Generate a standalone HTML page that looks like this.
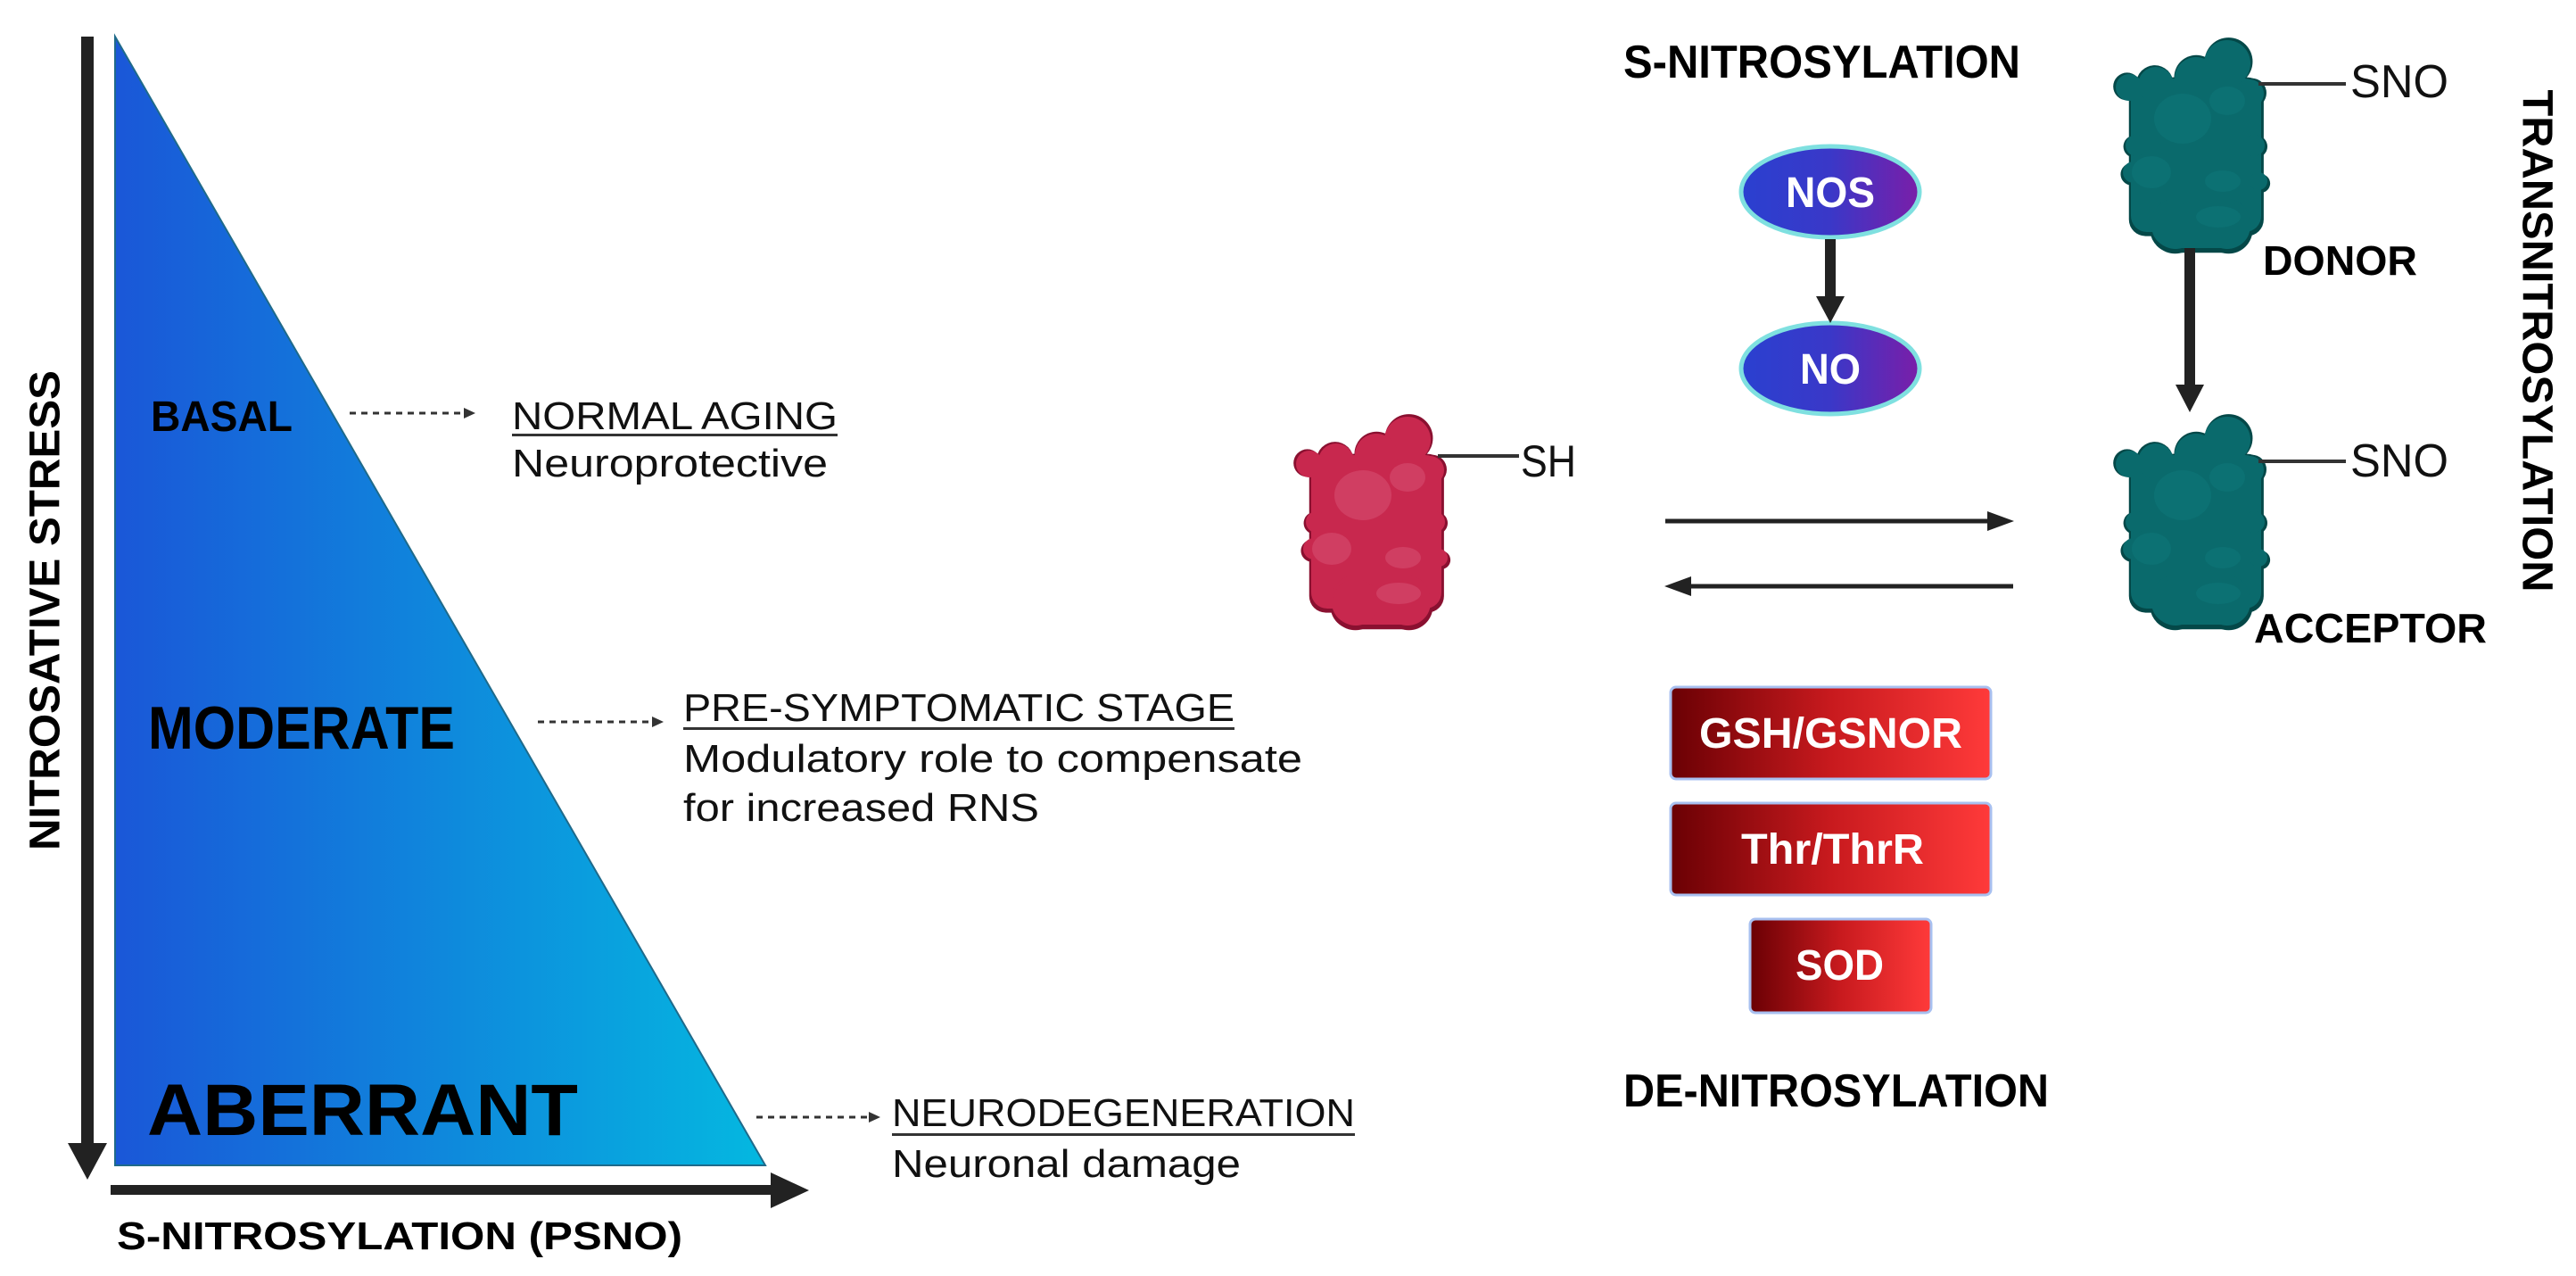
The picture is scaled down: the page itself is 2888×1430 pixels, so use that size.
<!DOCTYPE html>
<html><head><meta charset="utf-8"><style>html,body{margin:0;padding:0;background:#fff}svg{display:block}</style></head>
<body>
<svg width="2888" height="1430" viewBox="0 0 2888 1430" xmlns="http://www.w3.org/2000/svg" font-family="Liberation Sans, sans-serif">
<defs>
<linearGradient id="tri" x1="0" x2="1" y1="0" y2="0"><stop offset="0" stop-color="#1a57d8"/><stop offset="1" stop-color="#04b8e0"/></linearGradient>
<linearGradient id="ell" x1="0" x2="1" y1="0" y2="0"><stop offset="0" stop-color="#2a40d0"/><stop offset="0.5" stop-color="#3a38c8"/><stop offset="1" stop-color="#7a1ea8"/></linearGradient>
<linearGradient id="red" x1="0" x2="1" y1="0" y2="0"><stop offset="0" stop-color="#6a0004"/><stop offset="0.5" stop-color="#c81a1e"/><stop offset="1" stop-color="#ff3a3a"/></linearGradient>
<g id="blob">
<rect x="22" y="45" width="146" height="172" rx="18"/>
<rect x="45" y="180" width="110" height="55" rx="25"/>
<circle cx="130" cy="28" r="26"/><circle cx="95" cy="45" r="24"/><circle cx="50" cy="52" r="20"/><circle cx="20" cy="55" r="15"/>
<circle cx="155" cy="62" r="16"/><circle cx="160" cy="120" r="12"/><circle cx="165" cy="160" r="10"/>
<circle cx="28" cy="120" r="12"/><circle cx="25" cy="150" r="12"/>
<circle cx="72" cy="210" r="26"/><circle cx="130" cy="210" r="26"/>
</g>
</defs>

<polygon points="129,41 129,1306 858,1306" fill="url(#tri)" stroke="#1f6a8a" stroke-width="2"/>
<rect x="91" y="41" width="14" height="1245" fill="#222"/>
<polygon points="76,1281 120,1281 98,1322" fill="#222"/>
<rect x="124" y="1328" width="745" height="11" fill="#222"/>
<polygon points="864,1314 864,1354 907,1334" fill="#222"/>

<text x="51" y="684" transform="rotate(-90 51 684)" text-anchor="middle" dominant-baseline="central" font-size="48" font-weight="bold" textLength="538" lengthAdjust="spacingAndGlyphs">NITROSATIVE  STRESS</text>
<text x="131" y="1400" font-size="44" font-weight="bold" textLength="634" lengthAdjust="spacingAndGlyphs">S-NITROSYLATION (PSNO)</text>

<text x="169" y="483" font-size="48" font-weight="bold" textLength="159" lengthAdjust="spacingAndGlyphs">BASAL</text>
<text x="166" y="839" font-size="68" font-weight="bold" textLength="344" lengthAdjust="spacingAndGlyphs">MODERATE</text>
<text x="165" y="1272" font-size="82" font-weight="bold" textLength="483" lengthAdjust="spacingAndGlyphs">ABERRANT</text>

<g stroke="#333" stroke-width="3" stroke-dasharray="7,6">
<line x1="392" y1="463" x2="522" y2="463"/>
<line x1="603" y1="809" x2="733" y2="809"/>
<line x1="848" y1="1252" x2="976" y2="1252"/>
</g>
<g fill="#333">
<polygon points="520,457 533,463 520,469"/>
<polygon points="731,803 744,809 731,815"/>
<polygon points="974,1246 987,1252 974,1258"/>
</g>

<g font-size="44" fill="#111">
<text x="574" y="481" textLength="365" lengthAdjust="spacingAndGlyphs">NORMAL AGING</text>
<rect x="574" y="486" width="365" height="3" fill="#333"/>
<text x="574" y="534" textLength="354" lengthAdjust="spacingAndGlyphs">Neuroprotective</text>
<text x="766" y="808" textLength="618" lengthAdjust="spacingAndGlyphs">PRE-SYMPTOMATIC STAGE</text>
<rect x="766" y="815" width="618" height="3" fill="#333"/>
<text x="766" y="865" textLength="694" lengthAdjust="spacingAndGlyphs">Modulatory role to compensate</text>
<text x="766" y="920" textLength="399" lengthAdjust="spacingAndGlyphs">for increased RNS</text>
<text x="1000" y="1262" textLength="519" lengthAdjust="spacingAndGlyphs">NEURODEGENERATION</text>
<rect x="1000" y="1270" width="519" height="3" fill="#333"/>
<text x="1000" y="1319" textLength="391" lengthAdjust="spacingAndGlyphs">Neuronal damage</text>
</g>

<text x="1820" y="87" font-size="52" font-weight="bold" textLength="445" lengthAdjust="spacingAndGlyphs">S-NITROSYLATION</text>
<text x="1820" y="1240" font-size="52" font-weight="bold" textLength="477" lengthAdjust="spacingAndGlyphs">DE-NITROSYLATION</text>

<ellipse cx="2052" cy="215" rx="100" ry="51" fill="url(#ell)" stroke="#7fe0e0" stroke-width="5"/>
<ellipse cx="2052" cy="413" rx="100" ry="51" fill="url(#ell)" stroke="#7fe0e0" stroke-width="5"/>
<text x="2052" y="232" text-anchor="middle" font-size="48" font-weight="bold" fill="#fff" textLength="100" lengthAdjust="spacingAndGlyphs">NOS</text>
<text x="2052" y="430" text-anchor="middle" font-size="48" font-weight="bold" fill="#fff" textLength="68" lengthAdjust="spacingAndGlyphs">NO</text>
<rect x="2046" y="268" width="12" height="66" fill="#222"/>
<polygon points="2036,332 2068,332 2052,362" fill="#222"/>

<g transform="translate(1448,465)">
<use href="#blob" fill="#8a1030" transform="translate(-3,-3) scale(1.035)"/>
<use href="#blob" fill="#c8284e"/>
<g fill="#d03e62"><ellipse cx="80" cy="90" rx="32" ry="28"/><ellipse cx="130" cy="70" rx="20" ry="16"/><ellipse cx="45" cy="150" rx="22" ry="18"/><ellipse cx="125" cy="160" rx="20" ry="12"/><ellipse cx="120" cy="200" rx="25" ry="12"/></g>
</g>
<line x1="1612" y1="511" x2="1703" y2="511" stroke="#333" stroke-width="4"/>
<text x="1705" y="534" font-size="50" fill="#111" textLength="62" lengthAdjust="spacingAndGlyphs">SH</text>

<g transform="translate(2367,43)">
<use href="#blob" fill="#044848" transform="translate(-3,-3) scale(1.035)"/>
<use href="#blob" fill="#0a6a6c"/>
<g fill="#0c7173"><ellipse cx="80" cy="90" rx="32" ry="28"/><ellipse cx="130" cy="70" rx="20" ry="16"/><ellipse cx="45" cy="150" rx="22" ry="18"/><ellipse cx="125" cy="160" rx="20" ry="12"/><ellipse cx="120" cy="200" rx="25" ry="12"/></g>
</g>
<line x1="2532" y1="94" x2="2630" y2="94" stroke="#333" stroke-width="4"/>
<text x="2635" y="109" font-size="52" fill="#111" textLength="110" lengthAdjust="spacingAndGlyphs">SNO</text>
<text x="2537" y="308" font-size="46" font-weight="bold" textLength="173" lengthAdjust="spacingAndGlyphs">DONOR</text>

<rect x="2449" y="278" width="12" height="155" fill="#222"/>
<polygon points="2439,431 2471,431 2455,462" fill="#222"/>

<g transform="translate(2367,465)">
<use href="#blob" fill="#044848" transform="translate(-3,-3) scale(1.035)"/>
<use href="#blob" fill="#0a6a6c"/>
<g fill="#0c7173"><ellipse cx="80" cy="90" rx="32" ry="28"/><ellipse cx="130" cy="70" rx="20" ry="16"/><ellipse cx="45" cy="150" rx="22" ry="18"/><ellipse cx="125" cy="160" rx="20" ry="12"/><ellipse cx="120" cy="200" rx="25" ry="12"/></g>
</g>
<line x1="2532" y1="517" x2="2630" y2="517" stroke="#333" stroke-width="4"/>
<text x="2635" y="534" font-size="52" fill="#111" textLength="110" lengthAdjust="spacingAndGlyphs">SNO</text>
<text x="2527" y="720" font-size="46" font-weight="bold" textLength="261" lengthAdjust="spacingAndGlyphs">ACCEPTOR</text>

<text x="2844" y="382" transform="rotate(90 2844 382)" text-anchor="middle" dominant-baseline="central" font-size="48" font-weight="bold" textLength="563" lengthAdjust="spacingAndGlyphs">TRANSNITROSYLATION</text>

<line x1="1867" y1="584" x2="2230" y2="584" stroke="#222" stroke-width="5"/>
<polygon points="2228,573 2258,584 2228,595" fill="#222"/>
<line x1="1894" y1="657" x2="2257" y2="657" stroke="#222" stroke-width="5"/>
<polygon points="1896,646 1866,657 1896,668" fill="#222"/>

<rect x="1873" y="770" width="359" height="103" rx="6" fill="url(#red)" stroke="#a8c0f0" stroke-width="3"/>
<rect x="1873" y="900" width="359" height="103" rx="6" fill="url(#red)" stroke="#a8c0f0" stroke-width="3"/>
<rect x="1962" y="1030" width="203" height="105" rx="6" fill="url(#red)" stroke="#a8c0f0" stroke-width="3"/>
<g font-size="48" font-weight="bold" fill="#fff">
<text x="1905" y="838" textLength="295" lengthAdjust="spacingAndGlyphs">GSH/GSNOR</text>
<text x="1952" y="968" textLength="205" lengthAdjust="spacingAndGlyphs">Thr/ThrR</text>
<text x="2013" y="1098" textLength="99" lengthAdjust="spacingAndGlyphs">SOD</text>
</g>
</svg>
</body></html>
